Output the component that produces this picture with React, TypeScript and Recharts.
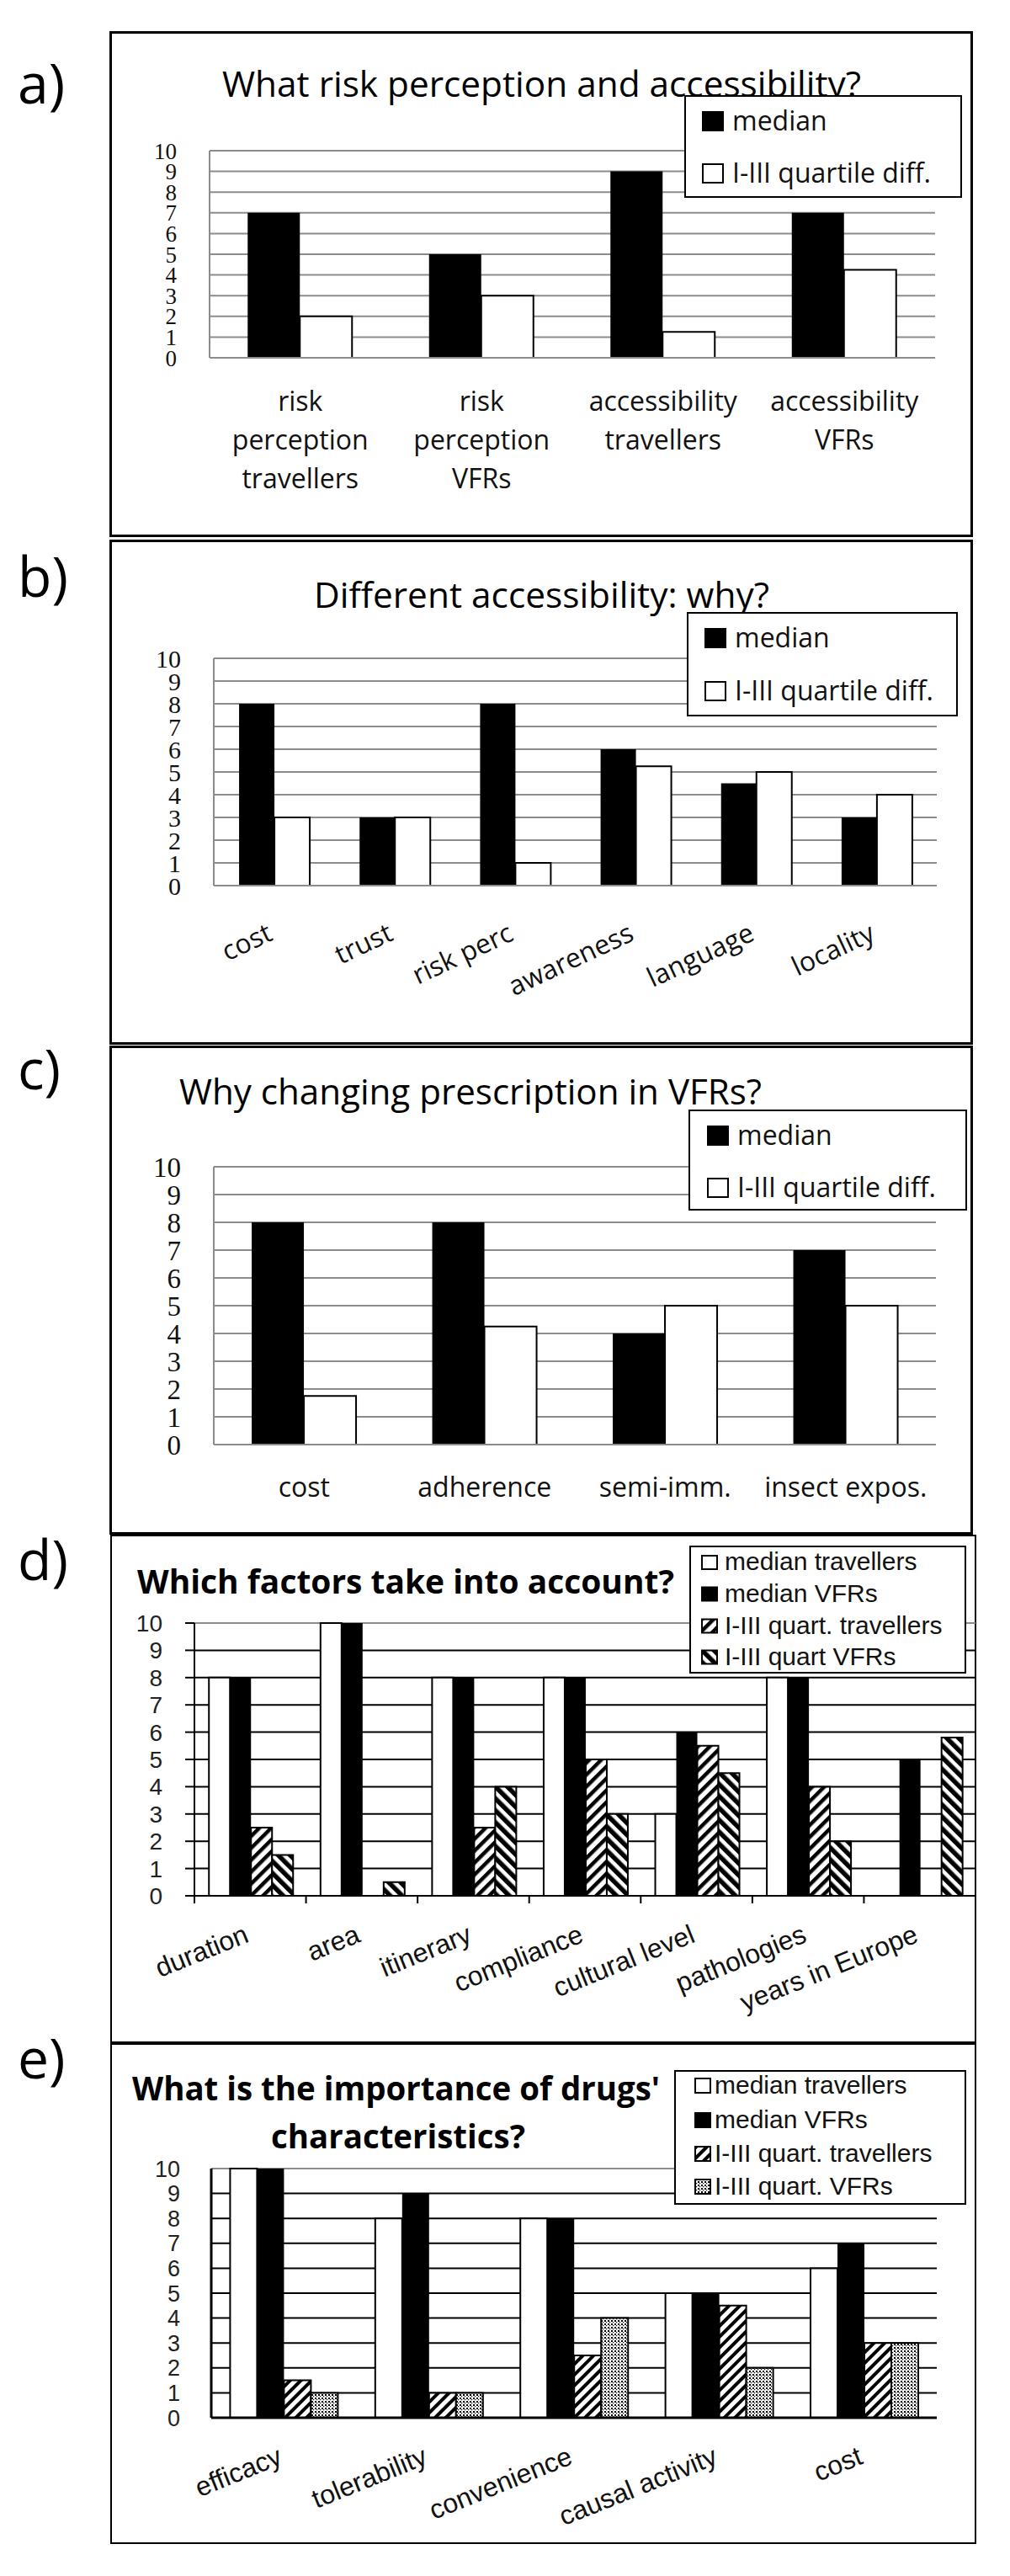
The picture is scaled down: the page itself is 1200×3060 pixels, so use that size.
import React from 'react';
import { BarChart, Bar, XAxis, YAxis, CartesianGrid } from 'recharts';

const yTicks = [0, 1, 2, 3, 4, 5, 6, 7, 8, 9, 10];

// a) risk perception and accessibility
const riskCats = ['risk\nperception\ntravellers', 'risk\nperception\nVFRs', 'accessibility\ntravellers', 'accessibility\nVFRs'];
const riskMedian = [7, 5, 9, 7];
const riskQuart = [2, 3, 1.25, 4.25];

// b) different accessibility
const whyCats = ['cost', 'trust', 'risk perc', 'awareness', 'language', 'locality'];
const whyMedian = [8, 3, 8, 6, 4.5, 3];
const whyQuart = [3, 3, 1, 5.25, 5, 4];

// c) changing prescription
const rxCats = ['cost', 'adherence', 'semi-imm.', 'insect expos.'];
const rxMedian = [8, 8, 4, 7];
const rxQuart = [1.75, 4.25, 5, 5];

// d) factors
const factorCats = ['duration', 'area', 'itinerary', 'compliance', 'cultural level', 'pathologies', 'years in Europe'];
const factorMedTrav = [8, 10, 8, 8, 3, 8, 0];
const factorMedVfr = [8, 10, 8, 8, 6, 8, 5];
const factorQTrav = [2.5, 0, 2.5, 5, 5.5, 4, 0];
const factorQVfr = [1.5, 0.5, 4, 3, 4.5, 2, 5.8];

// e) drug characteristics
const drugCats = ['efficacy', 'tolerability', 'convenience', 'causal activity', 'cost'];
const drugMedTrav = [10, 8, 8, 5, 6];
const drugMedVfr = [10, 9, 8, 5, 7];
const drugQTrav = [1.5, 1, 2.5, 4.5, 3];
const drugQVfr = [1, 1, 4, 2, 3];

const twoLegend = ['median', 'I-III quartile diff.'];
const legendD = ['median travellers', 'median VFRs', 'I-III quart. travellers', 'I-III quart VFRs'];
const legendE = ['median travellers', 'median VFRs', 'I-III quart. travellers', 'I-III quart. VFRs'];

const zip2 = (cats: string[], a: number[], b: number[]) =>
  cats.map((name, i) => ({ name, median: a[i], quart: b[i] }));
const zip4 = (cats: string[], a: number[], b: number[], c: number[], d: number[]) =>
  cats.map((name, i) => ({ name, medTrav: a[i], medVfr: b[i], qTrav: c[i], qVfr: d[i] }));

const GRAY = '#8c8c8c';
const SANS = "'Open Sans', sans-serif";
const ARIAL = "'Liberation Sans', Arial, sans-serif";
const SERIF = "'Liberation Serif', 'Times New Roman', serif";

type Plot = { x: number; y: number; w: number; h: number };
const CHART_LEFT = 130;
const CHART_W = 1030;
const TOP_PAD = 20;

function frame(p: Plot, xh: number) {
  return {
    style: { position: 'absolute' as const, left: CHART_LEFT, top: p.y - TOP_PAD },
    width: CHART_W,
    height: TOP_PAD + p.h + xh,
    margin: { top: TOP_PAD, right: CHART_W - (p.x - CHART_LEFT) - p.w, bottom: 0, left: 0 },
    yW: p.x - CHART_LEFT,
  };
}

function stackedTick(dy: number, gap: number) {
  return function StackedTick(props: any) {
    const { x, y, payload } = props;
    const lines = String(payload.value).split('\n');
    return (
      <text x={x} y={y} textAnchor="middle" fontFamily={SANS} fontSize={32} fill="#111">
        {lines.map((ln, i) => (
          <tspan key={i} x={x} y={y + dy + i * gap}>{ln}</tspan>
        ))}
      </text>
    );
  };
}

function slantTick(angle: number, dy: number, font: string, size: number, band = 0) {
  return function SlantTick(props: any) {
    const { x, y, payload } = props;
    return (
      <g>
        {band ? <line x1={x - band / 2} x2={x - band / 2} y1={y} y2={y + 9} stroke="#000" strokeWidth={2} /> : null}
        <text transform={`translate(${x},${y + dy}) rotate(${angle})`} textAnchor="end" fontFamily={font} fontSize={size} fill="#111">
          {payload.value}
        </text>
      </g>
    );
  };
}

const gridLine = (p: any) => (
  <line
    key={`g${p.y1}`}
    x1={p.x1}
    y1={p.y1}
    x2={p.x2}
    y2={p.y2}
    stroke={Math.abs(p.y1 - TOP_PAD) < 1 ? GRAY : '#000'}
    strokeWidth={2}
  />
);

function TwoBarChart({ rows, plot, xh, tick, tickFont }: { rows: any[]; plot: Plot; xh: number; tick: any; tickFont: number }) {
  const f = frame(plot, xh);
  return (
    <div style={f.style}>
      <BarChart width={f.width} height={f.height} data={rows} margin={f.margin} barCategoryGap="21%" barGap={0}>
        <CartesianGrid vertical={false} stroke={GRAY} strokeWidth={2} />
        <XAxis dataKey="name" interval={0} height={xh} tickSize={0} tickMargin={0} tickLine={false}
          axisLine={{ stroke: GRAY, strokeWidth: 2 }} tick={tick} />
        <YAxis domain={[0, 10]} ticks={yTicks} interval={0} width={f.yW} tickSize={0} tickMargin={39} tickLine={false}
          axisLine={{ stroke: GRAY, strokeWidth: 2 }} tick={{ fontFamily: SERIF, fontSize: tickFont, fill: '#111' }} />
        <Bar dataKey="median" fill="#000" isAnimationActive={false} />
        <Bar dataKey="quart" fill="#fff" stroke="#000" strokeWidth={2} isAnimationActive={false} />
      </BarChart>
    </div>
  );
}

function LegendBox({ left, top, w, h, labels, fills, rowTops, mx, mw, mh, tx, font, size, base }: any) {
  return (
    <svg style={{ position: 'absolute', left, top }} width={w} height={h}>
      <rect x={1} y={1} width={w - 2} height={h - 2} fill="#fff" stroke="#000" strokeWidth={2} />
      {labels.map((lb: string, i: number) => (
        <g key={lb}>
          <rect x={mx} y={rowTops[i]} width={mw} height={mh} fill={fills[i]} stroke="#000" strokeWidth={2} />
          <text x={tx} y={rowTops[i] + base} fontFamily={font} fontSize={size} fill="#111">{lb}</text>
        </g>
      ))}
    </svg>
  );
}

const boxes = [
  { left: 130, top: 37, w: 1026, h: 601, b: 3 },
  { left: 130, top: 641, w: 1026, h: 600, b: 3 },
  { left: 130, top: 1242, w: 1026, h: 581, b: 3 },
  { left: 131, top: 1823, w: 1029, h: 604, b: 2 },
  { left: 131, top: 2427, w: 1029, h: 595, b: 2 },
];

const titles = [
  { t: 'What risk perception and accessibility?', x: 264, y: 115, len: 759, size: 42, bold: false },
  { t: 'Different accessibility: why?', x: 373, y: 722, len: 541, size: 42, bold: false },
  { t: 'Why changing prescription in VFRs?', x: 213, y: 1312, len: 692, size: 42, bold: false },
  { t: 'Which factors take into account?', x: 163, y: 1893, len: 638, size: 40, bold: true },
  { t: "What is the importance of drugs'", x: 157, y: 2495, len: 627, size: 40, bold: true },
  { t: 'characteristics?', x: 322, y: 2552, len: 302, size: 40, bold: true },
];

const panelLabels = [
  { t: 'a)', y: 123 },
  { t: 'b)', y: 709 },
  { t: 'c)', y: 1294 },
  { t: 'd)', y: 1877 },
  { t: 'e)', y: 2469 },
];

const plotA = { x: 249, y: 179, w: 862, h: 246 };
const plotB = { x: 254, y: 782, w: 859, h: 270 };
const plotC = { x: 254, y: 1386, w: 858, h: 330 };
const plotD = { x: 231, y: 1928, w: 928, h: 324 };
const plotE = { x: 251, y: 2576, w: 862, h: 296 };

export default function App() {
  const fd = frame(plotD, 170);
  const fe = frame(plotE, 140);
  return (
    <div style={{ position: 'absolute', left: 0, top: 0, width: 1200, height: 3060, background: '#fff' }}>
      {boxes.map((b, i) => (
        <div key={i} style={{ position: 'absolute', left: b.left, top: b.top, width: b.w, height: b.h, border: `${b.b}px solid #000`, boxSizing: 'border-box' }} />
      ))}
      <svg style={{ position: 'absolute', left: 0, top: 0 }} width={1200} height={3060}>
        <defs>
          <pattern id="hatchUpD" patternUnits="userSpaceOnUse" width={10} height={10} patternTransform="rotate(45)">
            <rect width={10} height={10} fill="#fff" />
            <rect width={4.5} height={10} fill="#000" />
          </pattern>
          <pattern id="hatchDownD" patternUnits="userSpaceOnUse" width={10} height={10} patternTransform="rotate(-45)">
            <rect width={10} height={10} fill="#fff" />
            <rect width={5.5} height={10} fill="#000" />
          </pattern>
          <pattern id="hatchUpE" patternUnits="userSpaceOnUse" width={9} height={9} patternTransform="rotate(45)">
            <rect width={9} height={9} fill="#fff" />
            <rect width={4} height={9} fill="#000" />
          </pattern>
          <pattern id="dotsE" patternUnits="userSpaceOnUse" width={4} height={4}>
            <rect width={4} height={4} fill="#fff" />
            <rect width={2} height={2} fill="#000" />
            <rect x={2} y={2} width={1.2} height={1.2} fill="#000" />
          </pattern>
        </defs>
        {titles.map((t) => (
          <text key={t.t} x={t.x} y={t.y} textLength={t.len} lengthAdjust="spacingAndGlyphs" fontFamily={SANS}
            fontSize={t.size} fontWeight={t.bold ? 700 : 400} fill="#000">{t.t}</text>
        ))}
        {panelLabels.map((l) => (
          <text key={l.t} x={21} y={l.y} fontFamily={SANS} fontSize={66} fill="#000">{l.t}</text>
        ))}
      </svg>

      <TwoBarChart rows={zip2(riskCats, riskMedian, riskQuart)} plot={plotA} xh={170} tick={stackedTick(63, 46)} tickFont={27} />
      <TwoBarChart rows={zip2(whyCats, whyMedian, whyQuart)} plot={plotB} xh={170} tick={slantTick(-25, 64, SANS, 32)} tickFont={30} />
      <TwoBarChart rows={zip2(rxCats, rxMedian, rxQuart)} plot={plotC} xh={100} tick={stackedTick(62, 46)} tickFont={33} />

      <div style={fd.style}>
        <BarChart width={fd.width} height={fd.height} data={zip4(factorCats, factorMedTrav, factorMedVfr, factorQTrav, factorQVfr)}
          margin={fd.margin} barCategoryGap="13%" barGap={0}>
          <CartesianGrid vertical={false} horizontal={gridLine} />
          <XAxis dataKey="name" interval={0} height={170} tickSize={0} tickMargin={0} tickLine={false}
            axisLine={{ stroke: '#000', strokeWidth: 2 }} tick={slantTick(-22, 54, ARIAL, 32, plotD.w / factorCats.length)} />
          <YAxis domain={[0, 10]} ticks={yTicks} interval={0} width={fd.yW} tickSize={11} tickMargin={27}
            tickLine={{ stroke: '#000', strokeWidth: 2 }} axisLine={{ stroke: '#000', strokeWidth: 2 }}
            tick={{ fontFamily: ARIAL, fontSize: 28, fill: '#222' }} />
          <Bar dataKey="medTrav" fill="#fff" stroke="#000" strokeWidth={2} isAnimationActive={false} />
          <Bar dataKey="medVfr" fill="#000" isAnimationActive={false} />
          <Bar dataKey="qTrav" fill="url(#hatchUpD)" stroke="#000" strokeWidth={2} isAnimationActive={false} />
          <Bar dataKey="qVfr" fill="url(#hatchDownD)" stroke="#000" strokeWidth={2} isAnimationActive={false} />
        </BarChart>
      </div>

      <div style={fe.style}>
        <BarChart width={fe.width} height={fe.height} data={zip4(drugCats, drugMedTrav, drugMedVfr, drugQTrav, drugQVfr)}
          margin={fe.margin} barCategoryGap="13%" barGap={0}>
          <CartesianGrid vertical={false} horizontal={gridLine} />
          <XAxis dataKey="name" interval={0} height={140} tickSize={0} tickMargin={0} tickLine={false}
            axisLine={{ stroke: '#000', strokeWidth: 3 }} tick={slantTick(-22, 54, ARIAL, 32)} />
          <YAxis domain={[0, 10]} ticks={yTicks} interval={0} width={fe.yW} tickSize={0} tickMargin={37}
            tickLine={false} axisLine={{ stroke: '#000', strokeWidth: 3 }}
            tick={{ fontFamily: ARIAL, fontSize: 27, fill: '#222' }} />
          <YAxis yAxisId="frame" orientation="right" domain={[0, 10]} width={0} tick={false} tickLine={false}
            axisLine={{ stroke: '#000', strokeWidth: 1.5 }} />
          <Bar dataKey="medTrav" fill="#fff" stroke="#000" strokeWidth={2} isAnimationActive={false} />
          <Bar dataKey="medVfr" fill="#000" isAnimationActive={false} />
          <Bar dataKey="qTrav" fill="url(#hatchUpE)" stroke="#000" strokeWidth={2} isAnimationActive={false} />
          <Bar dataKey="qVfr" fill="url(#dotsE)" stroke="#000" strokeWidth={2} isAnimationActive={false} />
        </BarChart>
      </div>

      <LegendBox left={813} top={113} w={330} h={122} labels={twoLegend} fills={['#000', '#fff']} rowTops={[20, 82]}
        mx={22} mw={24} mh={22} tx={57} font={SANS} size={32} base={22} />
      <LegendBox left={816} top={727} w={322} h={124} labels={twoLegend} fills={['#000', '#fff']} rowTops={[20, 83]}
        mx={22} mw={24} mh={22} tx={57} font={SANS} size={32} base={22} />
      <LegendBox left={818} top={1318} w={331} h={120} labels={twoLegend} fills={['#000', '#fff']} rowTops={[20, 82]}
        mx={23} mw={24} mh={22} tx={58} font={SANS} size={32} base={22} />
      <LegendBox left={819} top={1836} w={329} h={152} labels={legendD}
        fills={['#fff', '#000', 'url(#hatchUpD)', 'url(#hatchDownD)']} rowTops={[12, 49.5, 87.5, 124.5]}
        mx={15} mw={18} mh={16} tx={42} font={ARIAL} size={30} base={17} />
      <LegendBox left={801} top={2459} w={347} h={160} labels={legendE}
        fills={['#fff', '#000', 'url(#hatchUpE)', 'url(#dotsE)']} rowTops={[10, 51, 91, 130]}
        mx={25} mw={18} mh={17} tx={48} font={ARIAL} size={30} base={18} />
    </div>
  );
}
